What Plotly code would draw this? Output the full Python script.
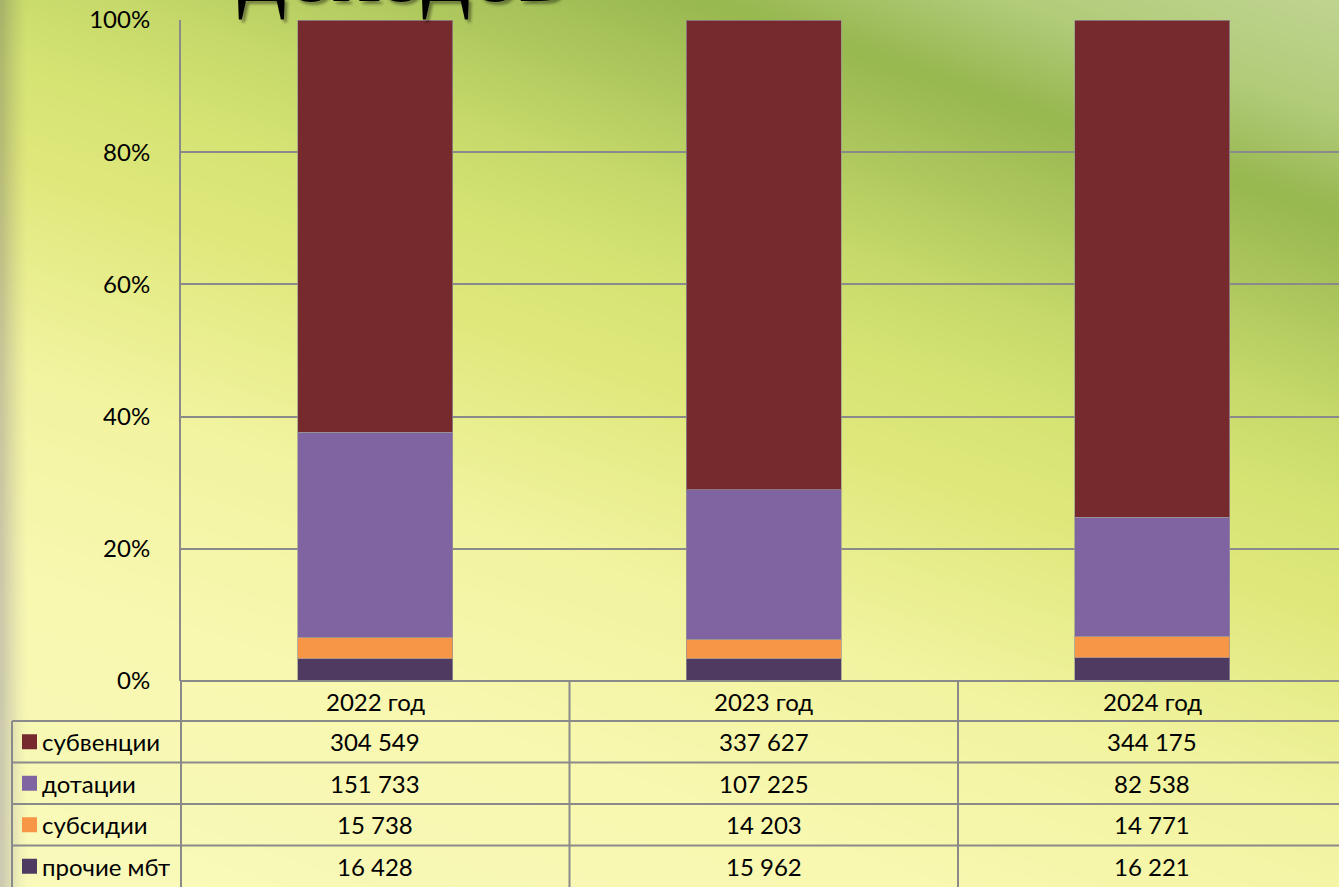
import base64
import struct
import zlib

import plotly.graph_objects as go

# ---------------- data ----------------
years = ["2022 год", "2023 год", "2024 год"]
subvencii = [304549, 337627, 344175]
dotacii = [151733, 107225, 82538]
subsidii = [15738, 14203, 14771]
prochie = [16428, 15962, 16221]

series_names = ["субвенции", "дотации", "субсидии", "прочие мбт"]
series_values = [subvencii, dotacii, subsidii, prochie]
series_colors = ["#772A2D", "#8064A2", "#F79646", "#4F3B62"]

y_ticks = [0, 20, 40, 60, 80, 100]
y_tick_labels = ["0%", "20%", "40%", "60%", "80%", "100%"]
title_text = "доходов"

# ---------------- geometry ----------------
W, H = 1339, 887
PL, PR, PT, PB = 181, 1339, 20, 681
CAT_PX = 388.5
XR = [-0.5, -0.5 + (PR - PL) / CAT_PX]
GRID = "#8a8a8a"
FONT = "Lato"
FS = 24


def pxx(px):
    return (px - PL) / (PR - PL)


def pxy(py):
    return (PB - py) / (PB - PT)


def catx(c):
    return (c - XR[0]) / (XR[1] - XR[0])


# ---------------- background gradient image ----------------
stops = [
    (0, (190, 211, 142)),
    (100, (178, 204, 122)),
    (200, (152, 184, 80)),
    (300, (174, 200, 94)),
    (400, (198, 217, 106)),
    (500, (214, 228, 116)),
    (600, (224, 232, 124)),
    (800, (242, 244, 160)),
    (1000, (248, 248, 176)),
    (1400, (250, 250, 190)),
]


def grad(s):
    if s <= stops[0][0]:
        return stops[0][1]
    for (s0, c0), (s1, c1) in zip(stops, stops[1:]):
        if s <= s1:
            t = (s - s0) / (s1 - s0)
            return tuple(c0[k] + (c1[k] - c0[k]) * t for k in range(3))
    return stops[-1][1]


SC = 3
iw, ih = W // SC + 1, H // SC + 1
rows = []
for j in range(ih):
    y = j * SC
    row = bytearray([0])
    for i in range(iw):
        x = i * SC
        s = y + 0.34 * (1300 - x)
        r, g, b = grad(s)
        if x < 26:
            f = (1 - x / 26) ** 1.3
            r = r * (1 - 0.18 * f)
            g = g * (1 - 0.19 * f)
            b = b * (1 - 0.05 * f)
        row += bytes([int(max(0, min(255, r))), int(max(0, min(255, g))), int(max(0, min(255, b)))])
    rows.append(bytes(row))


def chunk(tag, data):
    c = struct.pack(">I", len(data)) + tag + data
    return c + struct.pack(">I", zlib.crc32(tag + data) & 0xFFFFFFFF)


png = b"\x89PNG\r\n\x1a\n"
png += chunk(b"IHDR", struct.pack(">IIBBBBB", iw, ih, 8, 2, 0, 0, 0))
png += chunk(b"IDAT", zlib.compress(b"".join(rows), 9))
png += chunk(b"IEND", b"")
bg_src = "data:image/png;base64," + base64.b64encode(png).decode()

# ---------------- figure ----------------
fig = go.Figure()
for name, vals, col in reversed(list(zip(series_names, series_values, series_colors))):
    fig.add_trace(
        go.Bar(
            x=years,
            y=vals,
            name=name,
            marker=dict(color=col, line=dict(color="rgba(150,150,150,0.7)", width=1)),
        )
    )

shapes = []
annotations = []

# table lines
row_edges = [681, 721, 762.5, 804, 845.5, 887]
right_px = PL + 3 * CAT_PX
shapes.append(dict(type="line", xref="paper", yref="paper", x0=pxx(PL), x1=pxx(right_px),
                   y0=pxy(row_edges[0]), y1=pxy(row_edges[0]), line=dict(color=GRID, width=2)))
for ry in row_edges[1:5]:
    shapes.append(dict(type="line", xref="paper", yref="paper", x0=pxx(12), x1=pxx(right_px),
                       y0=pxy(ry), y1=pxy(ry), line=dict(color=GRID, width=2)))
shapes.append(dict(type="line", xref="paper", yref="paper", x0=pxx(12), x1=pxx(12),
                   y0=pxy(row_edges[1]), y1=pxy(row_edges[-1] + 5), line=dict(color=GRID, width=2)))
for c in range(len(years) + 1):
    xc = catx(c - 0.5)
    shapes.append(dict(type="line", xref="paper", yref="paper", x0=xc, x1=xc,
                       y0=pxy(row_edges[0]), y1=pxy(row_edges[-1] + 5), line=dict(color=GRID, width=2)))

# header texts
for yr in years:
    annotations.append(dict(text=yr, xref="x", yref="paper", x=yr,
                            y=pxy((row_edges[0] + row_edges[1]) / 2),
                            showarrow=False, yanchor="middle", xanchor="center",
                            font=dict(family=FONT, size=FS, color="black")))

# rows
for k, (name, vals, col) in enumerate(zip(series_names, series_values, series_colors)):
    top, bot = row_edges[k + 1], row_edges[k + 2]
    cy = (top + bot) / 2
    shapes.append(dict(type="rect", xref="paper", yref="paper", x0=pxx(22), x1=pxx(37),
                       y0=pxy(cy - 7.5), y1=pxy(cy + 7.5), fillcolor=col, line=dict(width=0)))
    annotations.append(dict(text=name, xref="paper", yref="paper", x=pxx(40), y=pxy(cy),
                            showarrow=False, xanchor="left", yanchor="middle",
                            font=dict(family=FONT, size=FS, color="black")))
    for yr, v in zip(years, vals):
        annotations.append(dict(text=f"{v:,}".replace(",", " "), xref="x", yref="paper", x=yr,
                                y=pxy(cy), showarrow=False, xanchor="center", yanchor="middle",
                                font=dict(family=FONT, size=FS, color="black")))

# title (partly cut off at top)
annotations.append(dict(text=title_text, xref="paper", yref="paper", x=pxx(236), y=pxy(24),
                        showarrow=False, xanchor="left", yanchor="bottom",
                        font=dict(family="Liberation Serif", size=96, color="black",
                                  shadow="3px 3px 3px rgba(0,0,0,0.4)")))

fig.update_layout(
    width=W,
    height=H,
    autosize=False,
    margin=dict(l=PL, r=W - PR, t=PT, b=H - PB, pad=0),
    paper_bgcolor="#e8ec9a",
    plot_bgcolor="rgba(0,0,0,0)",
    barmode="stack",
    barnorm="percent",
    bargap=0.6,
    showlegend=False,
    images=[dict(source=bg_src, xref="paper", yref="paper", x=pxx(0), y=pxy(0),
                 sizex=W / (PR - PL), sizey=H / (PB - PT), xanchor="left", yanchor="top",
                 sizing="stretch", layer="below")],
    shapes=shapes,
    annotations=annotations,
    xaxis=dict(range=XR, showticklabels=False, showgrid=False, zeroline=False, showline=False,
               ticks=""),
    yaxis=dict(range=[0, 100], tickmode="array", tickvals=y_ticks, ticktext=y_tick_labels,
               showgrid=True, gridcolor=GRID,
               gridwidth=2, zeroline=False, showline=True, linecolor=GRID, linewidth=2,
               ticks="", ticklabelstandoff=24,
               tickfont=dict(family=FONT, size=FS, color="black")),
    font=dict(family=FONT),
)

fig.write_html(
    "out.html",
    config={"displayModeBar": False},
    post_script="document.body.style.margin='0';document.body.style.overflow='hidden';",
)
